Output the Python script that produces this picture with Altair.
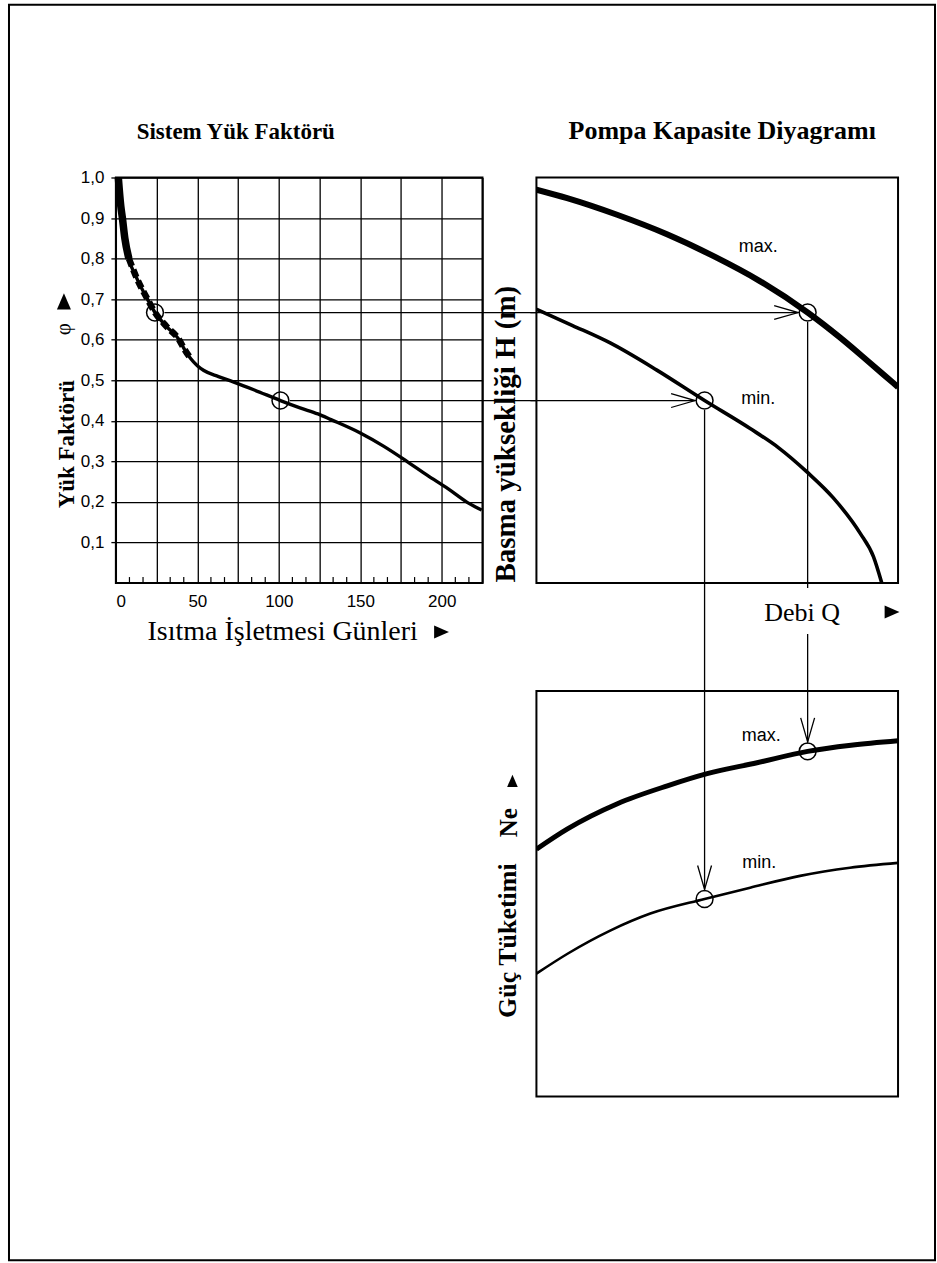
import altair as alt
import pandas as pd

# ---------------- data ----------------
# Sistem Yük Faktörü (left panel)
days = [1.5, 3, 4, 5.5, 8, 13, 19.4, 24, 31, 38.8, 42, 46, 50, 54, 63, 72, 85, 101, 113, 124,
        132, 150, 164.5, 179, 191, 204, 215.6, 224.5]
phi = [1.0, 0.93, 0.9, 0.85, 0.8, 0.75, 0.7, 0.667, 0.633, 0.6, 0.577, 0.553, 0.536, 0.524,
       0.509, 0.496, 0.476, 0.45, 0.432, 0.417, 0.403, 0.37, 0.337, 0.299, 0.266, 0.232,
       0.199, 0.18]
op_days = [24, 101]
op_phi = [0.667, 0.45]
x_grid = [0, 25, 50, 75, 100, 125, 150, 175, 200, 225]
x_labels = [0, 50, 100, 150, 200]
y_grid = [0.1, 0.2, 0.3, 0.4, 0.5, 0.6, 0.7, 0.8, 0.9, 1.0]
minor_per_cell = 3

# Pompa Kapasite Diyagramı (top right) : Debi Q vs Basma yüksekliği H
q_hmax = [0, 8.5, 22.3, 36.1, 49.0, 61.9, 75.0, 84.0, 91.3, 98.7, 100]
h_max = [97.0, 94.9, 90.8, 86.0, 80.6, 74.4, 66.7, 60.5, 55.0, 49.3, 48.3]
q_hmin = [0, 10, 20.4, 33.3, 46.5, 59.1, 66.9, 74.8, 82.1, 89.5, 93.2, 95.5]
h_min = [67.5, 63.5, 59.2, 52.5, 45.0, 38.1, 33.4, 27.4, 21.0, 12.3, 6.5, 0]
op_q = [75.0, 46.5]
op_h = [66.7, 45.0]

# Güç Tüketimi (bottom right) : Debi Q vs Ne
q_nmax = [0, 8.6, 22.4, 36.2, 47.2, 61.0, 75.0, 87, 100]
n_max = [61.0, 66.0, 72.2, 76.6, 79.6, 82.3, 85.1, 86.6, 87.7]
q_nmin = [0, 8.6, 20.4, 31.5, 46.5, 59.1, 72.9, 86.7, 100]
n_min = [30.3, 35.2, 40.9, 45.1, 48.7, 51.5, 54.4, 56.4, 57.6]
op_n = [85.1, 48.7]

# ---------------- styling / layout ----------------
SERIF = "Liberation Serif"
SANS = "Liberation Sans"
W_L, W_R, H_P = 367, 362, 406
GAP_X, GAP_Y = 54, 108
R = 9.5                      # circle radius (px)
CHEV = "M-1,-0.29L0,0L-1,0.29"
TRI_RIGHT = "M-1,-0.87L1,0L-1,0.87Z"
TRI_UP = "M-0.87,1L0,-1L0.87,1Z"
one = pd.DataFrame({"k": [0]})


def label(s, x, y, size, font=SERIF, weight="normal", angle=0, baseline="alphabetic"):
    return alt.Chart(pd.DataFrame({"t": [s]})).mark_text(
        font=font, fontSize=size, fontWeight=weight, angle=angle, align="center",
        baseline=baseline, color="black"
    ).encode(x=alt.value(x), y=alt.value(y), text="t:N")


def glyph(path, x, y, size):
    return alt.Chart(one).mark_point(
        shape=path, filled=True, size=size, color="black", opacity=1, strokeWidth=0
    ).encode(x=alt.value(x), y=alt.value(y))


# ---------------- left panel ----------------
lf = pd.DataFrame({"days": days, "phi": phi})
opl = pd.DataFrame({"days": op_days, "phi": op_phi})
minor = [g + i * 25 / minor_per_cell for g in x_grid[:-1] for i in range(1, minor_per_cell)]
mdf = pd.DataFrame({"days": minor})

xs = alt.Scale(domain=[0, 225], nice=False, zero=False)
ys = alt.Scale(domain=[0, 1], nice=False, zero=False)
xa = alt.Axis(values=x_grid, grid=True, gridColor="black", gridWidth=1.3, gridOpacity=1,
              domain=False, ticks=False, labelFont=SANS, labelFontSize=17, labelColor="black",
              labelPadding=10, title=None,
              labelExpr="indexof(" + str(x_labels) + ", datum.value) >= 0 ? datum.label : ''")
ya = alt.Axis(values=y_grid, grid=True, gridColor="black", gridWidth=1.3, gridOpacity=1,
              domain=False, tickSize=5, tickColor="black", tickWidth=1.3, labelFont=SANS,
              labelFontSize=17, labelColor="black", labelPadding=7, title=None,
              labelExpr="replace(format(datum.value, '.1f'), '.', ',')")
X = alt.X("days:Q", scale=xs, axis=xa)
Y = alt.Y("phi:Q", scale=ys, axis=ya)

curve = alt.Chart(lf).mark_line(color="black", strokeWidth=3.4, interpolate="monotone").encode(X, Y)
thick = alt.Chart(lf[lf.phi >= 0.8]).mark_line(
    color="black", strokeWidth=7.5, interpolate="monotone", strokeCap="butt").encode(X, Y)
dashed = alt.Chart(lf[(lf.phi <= 0.8) & (lf.phi >= 0.54)]).mark_line(
    color="black", strokeWidth=6.5, interpolate="monotone", strokeDash=[8, 4],
    strokeCap="butt").encode(X, Y)
circ_l = alt.Chart(opl).mark_point(shape="circle", filled=False, size=285, strokeWidth=1.5,
                                   color="black", opacity=1).encode(X, Y)
hlines = alt.Chart(opl).mark_rule(color="black", strokeWidth=1.3, xOffset=R).encode(
    X, Y, x2=alt.value(W_L + GAP_X))
mticks = alt.Chart(mdf).mark_rule(color="black", strokeWidth=1.2).encode(
    X, y=alt.value(H_P), y2=alt.value(H_P - 6))
frame = alt.Chart(one).mark_rect(fillOpacity=0, stroke="black", strokeWidth=2).encode(
    x=alt.value(-107), x2=alt.value(820), y=alt.value(-173), y2=alt.value(1084))

left = alt.layer(
    curve, thick, dashed, circ_l, hlines, mticks, frame,
    label("Sistem Yük Faktörü", 120, -39, 23, weight="bold"),
    label("Yük Faktörü", -49, 267, 23, weight="bold", angle=270, baseline="middle"),
    label("φ", -52, 152, 21, angle=270, baseline="middle"),
    glyph(TRI_UP, -52, 124, 260),
    label("Isıtma İşletmesi Günleri", 167, 463, 28),
    glyph(TRI_RIGHT, 326, 455, 220),
).properties(width=W_L, height=H_P)

# ---------------- top right panel ----------------
QX = alt.X("Q:Q", scale=alt.Scale(domain=[0, 100], nice=False, zero=False), axis=None)
HY = alt.Y("H:Q", scale=alt.Scale(domain=[0, 100], nice=False, zero=False), axis=None)
NY = alt.Y("N:Q", scale=alt.Scale(domain=[0, 100], nice=False, zero=False), axis=None)

dh_max = pd.DataFrame({"Q": q_hmax, "H": h_max})
dh_min = pd.DataFrame({"Q": q_hmin, "H": h_min})
opt = pd.DataFrame({"Q": op_q, "H": op_h})
opt_max = opt.iloc[[0]]
opt_min = opt.iloc[[1]]

tr = alt.layer(
    alt.Chart(dh_max).mark_line(color="black", strokeWidth=6, interpolate="monotone", clip=True).encode(QX, HY),
    alt.Chart(dh_min).mark_line(color="black", strokeWidth=3.6, interpolate="monotone", clip=True).encode(QX, HY),
    alt.Chart(opt).mark_point(shape="circle", filled=False, size=285, strokeWidth=1.5,
                              color="black", opacity=1).encode(QX, HY),
    alt.Chart(opt).mark_rule(color="black", strokeWidth=1.3, xOffset=-R).encode(
        QX, HY, x2=alt.value(-6)),
    alt.Chart(opt).mark_point(shape=CHEV, filled=False, size=2304, strokeWidth=1.3,
                              color="black", opacity=1, xOffset=-R).encode(QX, HY),
    alt.Chart(opt_min).mark_rule(color="black", strokeWidth=1.3, yOffset=R).encode(
        QX, HY, y2=alt.value(H_P + GAP_Y)),
    alt.Chart(opt_max).mark_rule(color="black", strokeWidth=1.3, yOffset=R).encode(
        QX, HY, y2=alt.value(H_P + 5)),
    alt.Chart(opt_max).mark_rule(color="black", strokeWidth=1.3).encode(
        QX, y=alt.value(H_P + 51), y2=alt.value(H_P + GAP_Y)),
    label("Pompa Kapasite Diyagramı", 186, -39, 26, weight="bold"),
    label("Basma yüksekliği H (m)", -30, 257, 29, weight="bold", angle=270, baseline="middle"),
    label("max.", 222, 70, 18, font=SANS, baseline="middle"),
    label("min.", 222, 222, 18, font=SANS, baseline="middle"),
    label("Debi Q", 266, 444, 26),
    glyph(TRI_RIGHT, 356, 435, 220),
).properties(width=W_R, height=H_P)

# ---------------- bottom right panel ----------------
dn_max = pd.DataFrame({"Q": q_nmax, "N": n_max})
dn_min = pd.DataFrame({"Q": q_nmin, "N": n_min})
opb = pd.DataFrame({"Q": op_q, "N": op_n})

br = alt.layer(
    alt.Chart(dn_max).mark_line(color="black", strokeWidth=5, interpolate="monotone", clip=True).encode(QX, NY),
    alt.Chart(dn_min).mark_line(color="black", strokeWidth=2.6, interpolate="monotone", clip=True).encode(QX, NY),
    alt.Chart(opb).mark_point(shape="circle", filled=False, size=285, strokeWidth=1.5,
                              color="black", opacity=1).encode(QX, NY),
    alt.Chart(opb).mark_rule(color="black", strokeWidth=1.3, yOffset=-R).encode(
        QX, NY, y2=alt.value(0)),
    alt.Chart(opb).mark_point(shape=CHEV, filled=False, size=2304, strokeWidth=1.3, angle=90,
                              color="black", opacity=1, yOffset=-R).encode(QX, NY),
    label("max.", 225, 45, 18, font=SANS, baseline="middle"),
    label("min.", 223, 172, 18, font=SANS, baseline="middle"),
    label("Güç Tüketimi", -28, 250, 26, weight="bold", angle=270, baseline="middle"),
    label("Ne", -27, 132, 25, weight="bold", angle=270, baseline="middle"),
    glyph(TRI_UP, -24, 90, 150),
).properties(width=W_R, height=H_P)

empty = alt.Chart(one).mark_point(opacity=0).encode(
    x=alt.value(0), y=alt.value(0)
).properties(width=W_L, height=H_P, view=alt.ViewBackground(stroke="transparent", strokeWidth=0))

chart = alt.concat(
    left, tr, empty, br, columns=2,
    spacing=alt.RowColnumber(row=GAP_Y, column=GAP_X), bounds="flush"
).properties(
    padding={"left": 7, "top": 2, "right": 0, "bottom": 0}
).configure(
    background="white",
    view=alt.ViewConfig(stroke="black", strokeWidth=2),
)

chart.save("out.html", embed_options={"renderer": "svg", "actions": False})
